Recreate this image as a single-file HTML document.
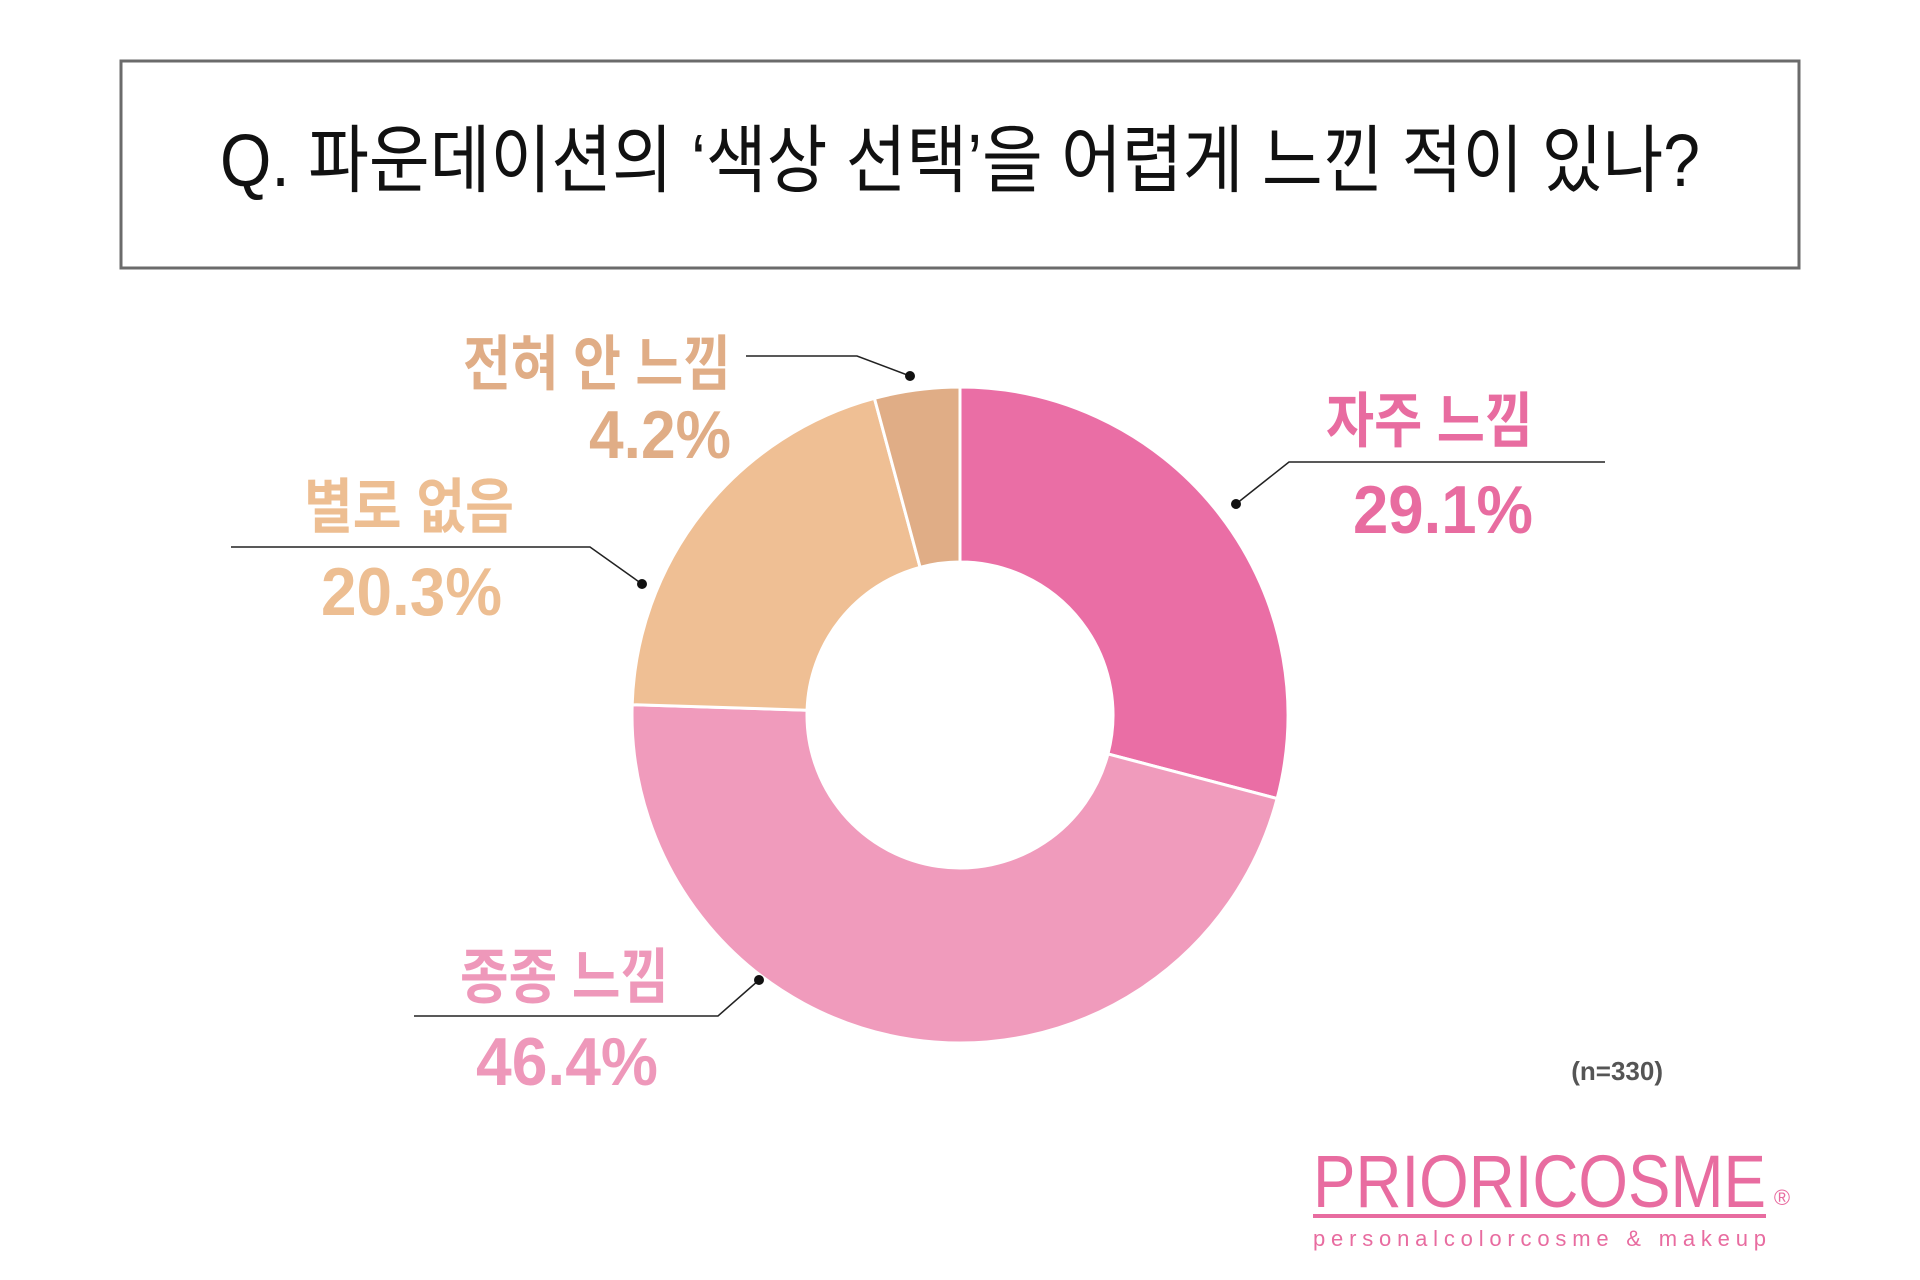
<!DOCTYPE html>
<html><head><meta charset="utf-8"><style>
html,body{margin:0;padding:0;background:#fff;width:1920px;height:1280px;overflow:hidden}
svg{display:block}
text{font-family:"Liberation Sans","Noto Sans CJK KR",sans-serif}
</style></head><body>
<svg id="chart" width="1920" height="1280" viewBox="0 0 1920 1280">
<rect x="121" y="61" width="1678" height="207" fill="#fff" stroke="#6b6b6b" stroke-width="3"/>
<text x="960" y="186" text-anchor="middle" font-size="74" fill="#111" textLength="1480" lengthAdjust="spacingAndGlyphs" font-family="Noto Sans CJK KR, sans-serif">Q. 파운데이션의 ‘색상 선택’을 어렵게 느낀 적이 있나?</text>
<g id="slices"></g>
<g id="labels"></g>
<text x="1663" y="1080" text-anchor="end" font-size="26" font-weight="bold" fill="#555">(n=330)</text>
<g>
<text x="1313" y="1207" font-size="74" fill="#E86CA0" textLength="453" lengthAdjust="spacingAndGlyphs" font-family="Liberation Sans, sans-serif">PRIORICOSME</text>
<rect x="1313" y="1214" width="453" height="4" fill="#E86CA0"/>
<text x="1782" y="1205" font-size="22" fill="#E86CA0" text-anchor="middle">®</text>
<text x="1313" y="1246" font-size="22" fill="#E86CA0" textLength="453" lengthAdjust="spacing">personalcolorcosme &amp; makeup</text>
</g>
</svg>
<script>
const categories = ["자주 느낌", "종종 느낌", "별로 없음", "전혀 안 느낌"];
const values = [29.1, 46.4, 20.3, 4.2];
const valueLabels = ["29.1%", "46.4%", "20.3%", "4.2%"];
const colors = ["#EA6EA5", "#F09BBC", "#EFBF94", "#E0AD86"];
const textColors = ["#E86CA0", "#EE98BA", "#EDBE92", "#E0AD86"];

const NS = "http://www.w3.org/2000/svg";
const cx = 960, cy = 715, R = 328, r = 153;
const total = values.reduce((a, b) => a + b, 0);
function angleOf(v) { return v / total * Math.PI * 2; }
function pt(rad, a) { return [cx + rad * Math.sin(a), cy - rad * Math.cos(a)]; }

const gS = document.getElementById('slices');
let acc = 0;
values.forEach((v, i) => {
  const a0 = angleOf(acc), a1 = angleOf(acc + v);
  acc += v;
  const large = (a1 - a0) > Math.PI ? 1 : 0;
  const [x0, y0] = pt(R, a0), [x1, y1] = pt(R, a1), [x2, y2] = pt(r, a1), [x3, y3] = pt(r, a0);
  const p = document.createElementNS(NS, 'path');
  p.setAttribute('d', `M${x0},${y0} A${R},${R} 0 ${large} 1 ${x1},${y1} L${x2},${y2} A${r},${r} 0 ${large} 0 ${x3},${y3} Z`);
  p.setAttribute('fill', colors[i]);
  p.setAttribute('stroke', '#fff');
  p.setAttribute('stroke-width', '3');
  
  
  gS.appendChild(p);
});

const layout = [
  {line: [[1236,504],[1289,462],[1605,462]], cat: [1533,442], cw: 207, val: [1533,533], vw: 180},
  {line: [[759,980],[718,1016],[414,1016]], cat: [669,998], cw: 209, val: [658,1085], vw: 182},
  {line: [[642,584],[590,547],[231,547]], cat: [514,528], cw: 210, val: [502,615], vw: 181},
  {line: [[910,376],[857,356],[746,356]], cat: [731,385], cw: 268, val: [731,458], vw: 142}
];
const gL = document.getElementById('labels');
categories.forEach((c, i) => {
  const L = layout[i];
  const pl = document.createElementNS(NS, 'polyline');
  pl.setAttribute('points', L.line.map(p => p.join(',')).join(' '));
  pl.setAttribute('fill', 'none');
  pl.setAttribute('stroke', '#222');
  pl.setAttribute('stroke-width', '1.5');
  
  
  gL.appendChild(pl);
  const d = document.createElementNS(NS, 'circle');
  d.setAttribute('cx', L.line[0][0]); d.setAttribute('cy', L.line[0][1]); d.setAttribute('r', 5);
  d.setAttribute('fill', '#111');
  
  
  gL.appendChild(d);
  const t = document.createElementNS(NS, 'text');
  t.setAttribute('x', L.cat[0]); t.setAttribute('y', L.cat[1]);
  t.setAttribute('text-anchor', 'end');
  t.setAttribute('font-size', '60');
  t.setAttribute('font-weight', 'bold');
  t.setAttribute('fill', textColors[i]);
  t.setAttribute('textLength', L.cw);
  t.setAttribute('lengthAdjust', 'spacingAndGlyphs');
  t.setAttribute('font-family', 'Noto Sans CJK KR, sans-serif');
  t.textContent = c;
  
  
  gL.appendChild(t);
  const v = document.createElementNS(NS, 'text');
  v.setAttribute('x', L.val[0]); v.setAttribute('y', L.val[1]);
  v.setAttribute('text-anchor', 'end');
  v.setAttribute('font-size', '68');
  v.setAttribute('font-weight', '600');
  v.setAttribute('fill', textColors[i]);
  v.setAttribute('textLength', L.vw);
  v.setAttribute('lengthAdjust', 'spacingAndGlyphs');
  v.textContent = valueLabels[i];
  
  
  gL.appendChild(v);
});
</script>
</body></html>
